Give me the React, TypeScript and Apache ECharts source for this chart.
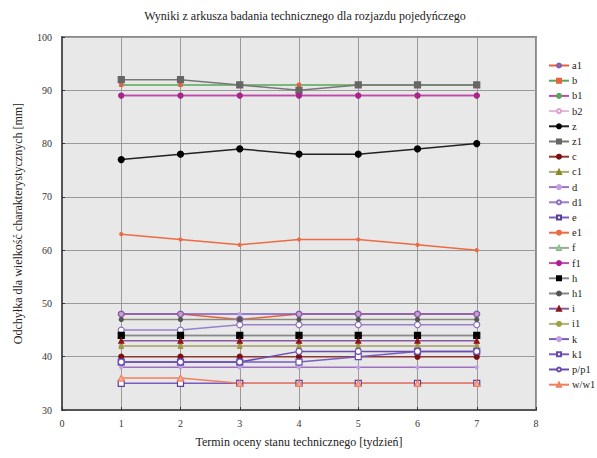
import React, { useEffect, useRef } from "react";
import * as echarts from "echarts";

const weeks = [1, 2, 3, 4, 5, 6, 7];

const seriesNames = ["a1", "b", "b1", "b2", "z", "z1", "c", "c1", "d", "d1", "e", "e1", "f", "f1", "h", "h1", "i", "i1", "k", "k1", "p/p1", "w/w1"];

const a1 = [48, 48, 47, 48, 48, 48, 48];
const b = [91, 91, 91, 91, 91, 91, 91];
const b1 = [89, 89, 89, 89, 89, 89, 89];
const b2 = [42, 42, 42, 42, 42, 42, 42];
const z = [77, 78, 79, 78, 78, 79, 80];
const z1 = [92, 92, 91, 90, 91, 91, 91];
const c = [40, 40, 40, 40, 40, 40, 40];
const c1 = [42, 42, 42, 42, 42, 42, 42];
const d = [38, 38, 38, 38, 38, 38, 38];
const d1 = [45, 45, 46, 46, 46, 46, 46];
const e = [35, 35, 35, 35, 35, 35, 35];
const e1 = [63, 62, 61, 62, 62, 61, 60];
const f = [44, 44, 44, 44, 44, 44, 44];
const f1 = [89, 89, 89, 89, 89, 89, 89];
const h = [44, 44, 44, 44, 44, 44, 44];
const h1 = [47, 47, 47, 47, 47, 47, 47];
const i = [43, 43, 43, 43, 43, 43, 43];
const i1 = [42, 42, 42, 42, 42, 42, 42];
const k = [48, 48, 48, 48, 48, 48, 48];
const k1 = [39, 39, 39, 39, 40, 41, 41];
const pp1 = [39, 39, 39, 41, 41, 41, 41];
const ww1 = [36, 36, 35, 35, 35, 35, 35];

const seriesValues = [a1, b, b1, b2, z, z1, c, c1, d, d1, e, e1, f, f1, h, h1, i, i1, k, k1, pp1, ww1];

// line colour, marker symbol, marker fill, marker border, marker size
const styles: [string, string, string, string, number][] = [
  ["#e8603c", "circle", "#e8603c", "#7a5cc0", 6],
  ["#5aa55a", "rect", "#e8603c", "#e8603c", 3],
  ["#c04aa8", "circle", "#5aa55a", "#5aa55a", 5],
  ["#e0b8d8", "circle", "#ffffff", "#e0a0d0", 4],
  ["#222222", "circle", "#000000", "#000000", 6],
  ["#777777", "rect", "#666666", "#666666", 6],
  ["#8a3a30", "circle", "#7a1010", "#7a1010", 5],
  ["#b0a878", "triangle", "#8a8a20", "#8a8a20", 4],
  ["#a070c0", "circle", "#c0a0e0", "#c0a0e0", 3],
  ["#9a80c8", "circle", "#ffffff", "#8a70c0", 6],
  ["#7a5cc0", "rect", "#ffffff", "#5a3c9a", 6],
  ["#ee6a44", "circle", "#ee6a44", "#ee6a44", 3],
  ["#9aa8a0", "triangle", "#ffffff", "#8ac08a", 4],
  ["#c04aa8", "circle", "#b02090", "#b02090", 5],
  ["#888888", "rect", "#000000", "#000000", 6],
  ["#8a8a80", "circle", "#555555", "#555555", 4],
  ["#8a5aa0", "triangle", "#8a1818", "#8a1818", 5],
  ["#b4ae80", "circle", "#a0a040", "#a0a040", 3],
  ["#7a5cc0", "circle", "#c0a0e0", "#c0a0e0", 3],
  ["#7a5cc0", "rect", "#ffffff", "#6a4cb0", 6],
  ["#6a4cb0", "circle", "#ffffff", "#6a4cb0", 6],
  ["#f08060", "triangle", "#f8b0a0", "#f08060", 6],
];

export default function App() {
  const ref = useRef<HTMLDivElement>(null);
  useEffect(() => {
    document.body.style.margin = "0";
    if (!ref.current) return;
    const chart = echarts.init(ref.current, null, { renderer: "svg" });
    const font = "'Liberation Serif', 'Times New Roman', serif";
    chart.setOption({
      animation: false,
      backgroundColor: "#ffffff",
      textStyle: { fontFamily: font },
      title: {
        text: "Wyniki z arkusza badania technicznego dla rozjazdu pojedyńczego",
        left: 300,
        textAlign: "center",
        top: 5,
        textStyle: { fontFamily: font, fontSize: 12, fontWeight: "normal", color: "#222" },
      },
      grid: {
        left: 62,
        right: 61,
        top: 37,
        bottom: 48,
        show: true,
        backgroundColor: "#e8e8e8",
        borderColor: "#8a8a8a",
        borderWidth: 2,
      },
      legend: {
        orient: "vertical",
        left: 543,
        top: 55,
        itemWidth: 20,
        itemHeight: 5,
        itemGap: 4.2,
        textStyle: { fontFamily: font, fontSize: 10.5, color: "#222", padding: [0, 0, 0, -2] },
        data: seriesNames,
      },
      xAxis: {
        type: "value",
        min: 0,
        max: 8,
        interval: 1,
        name: "Termin oceny stanu technicznego [tydzień]",
        nameLocation: "middle",
        nameGap: 26,
        nameTextStyle: { fontFamily: font, fontSize: 12, color: "#222" },
        axisLine: { show: true, lineStyle: { color: "#555", width: 2 } },
        axisTick: { show: true, inside: true, length: 3, lineStyle: { color: "#333" } },
        axisLabel: { fontFamily: font, fontSize: 10, color: "#333", margin: 8 },
        splitLine: { show: true, lineStyle: { color: "#9a9a9a", width: 1 } },
      },
      yAxis: {
        type: "value",
        min: 30,
        max: 100,
        interval: 10,
        name: "Odchyłka dla wielkość charakterystycznych [mm]",
        nameLocation: "middle",
        nameGap: 38,
        nameTextStyle: { fontFamily: font, fontSize: 12, color: "#222" },
        axisLine: { show: true, lineStyle: { color: "#555", width: 2 } },
        axisTick: { show: true, inside: true, length: 3, lineStyle: { color: "#333" } },
        axisLabel: { fontFamily: font, fontSize: 10, color: "#333", margin: 10 },
        splitLine: { show: true, lineStyle: { color: "#9a9a9a", width: 1 } },
      },
      series: seriesNames.map((name, idx) => {
        const [col, sym, fill, border, size] = styles[idx];
        return {
          name,
          type: "line",
          data: weeks.map((w, j) => [w, seriesValues[idx][j]]),
          symbol: sym,
          symbolSize: size,
          lineStyle: { color: col, width: 1.5 },
          itemStyle: { color: fill, borderColor: border, borderWidth: 1.2 },
          emphasis: { disabled: true },
        };
      }),
    });
    return () => chart.dispose();
  }, []);
  return <div ref={ref} style={{ width: 597, height: 458 }} />;
}
